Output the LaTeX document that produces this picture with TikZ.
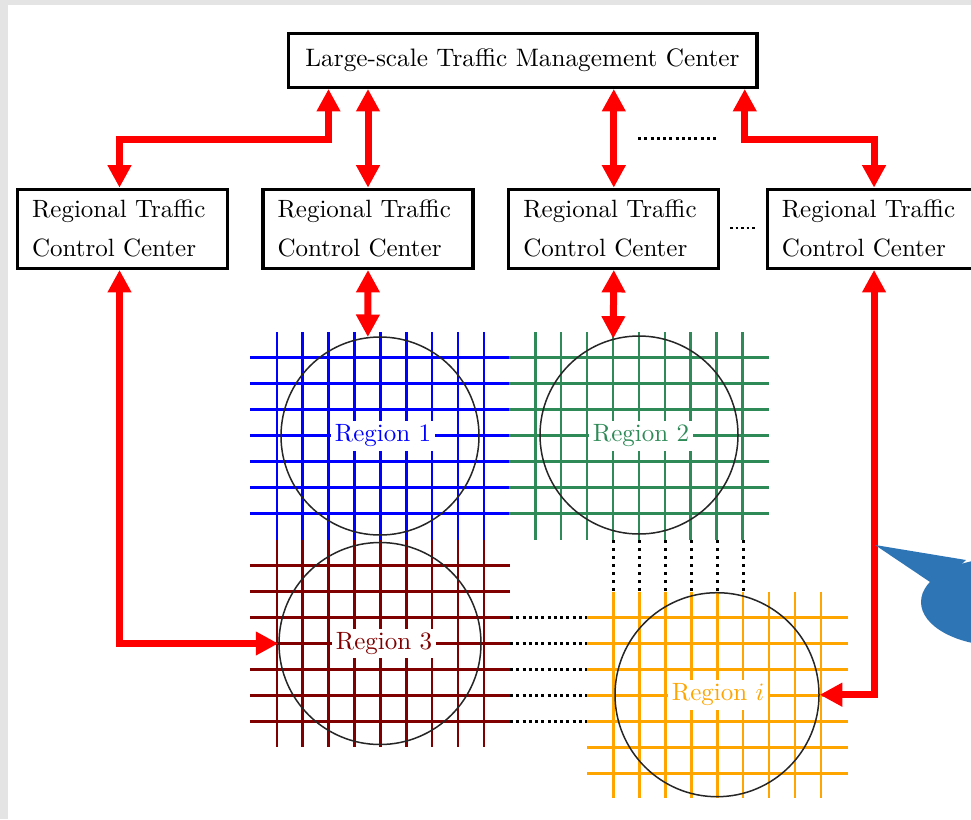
\documentclass[tikz,border=0pt]{standalone}
\usetikzlibrary{arrows.meta,calc}
\definecolor{bubblecol}{RGB}{46,117,182}
\definecolor{gridblue}{RGB}{0,0,255}
\definecolor{gridgreen}{RGB}{46,139,87}
\definecolor{gridred}{RGB}{128,0,0}
\definecolor{gridorange}{RGB}{255,165,0}
\definecolor{margingray}{RGB}{228,228,228}
\begin{document}
\begin{tikzpicture}[x=0.4pt,y=-0.4pt,
 tbox/.style={draw, line width=1.3pt, minimum width=187.5pt, minimum height=21.6pt, inner sep=0pt, font=\fontsize{10.1pt}{12pt}\selectfont},
 rbox/.style={draw, line width=1.3pt, minimum height=31.6pt, text width=72.4pt, inner xsep=5.8pt, inner ysep=0pt, align=left, font=\fontsize{10pt}{15.6pt}\selectfont},
 regcirc/.style={draw=black!85, line width=0.6pt, circle, inner sep=0pt},
 reglabel/.style={fill=white, inner sep=1.5pt, font=\fontsize{10pt}{12pt}\selectfont},
 biarrow/.style={draw=red, line width=2.8pt, {Triangle[length=9pt,width=9pt]}-{Triangle[length=9pt,width=9pt]}},
 roadh/.style={line width=1.15pt},
 roadv/.style={line width=1pt},
 dotline/.style={line width=1.2pt, dash pattern=on 1.2pt off 1.3pt},
]
\clip (0,0) rectangle (971,819);
\useasboundingbox (0,0) rectangle (971,819);
\fill[margingray] (0,0) rectangle (971,819);
\fill[white] (8,5) rectangle (971,819);

% grids
\foreach \k in {0,...,6} {
  \draw[gridblue, roadh] (250,{357.7+25.9*\k}) -- (509,{357.7+25.9*\k});
  \draw[gridgreen, roadh] (509,{357.7+25.9*\k}) -- (769,{357.7+25.9*\k});
  \draw[gridred, roadh] (250,{565.7+25.9*\k}) -- (510,{565.7+25.9*\k});
  \draw[gridorange, roadh] (587,{617.7+25.9*\k}) -- (848,{617.7+25.9*\k});
}
\foreach \k in {0,...,8} {
  \draw[gridblue, roadv] ({276.8+25.9*\k},332) -- ({276.8+25.9*\k},540);
  \draw[gridred, roadv] ({276.8+25.9*\k},540) -- ({276.8+25.9*\k},746.7);
  \draw[gridgreen, roadv] ({535.3+25.9*\k},332) -- ({535.3+25.9*\k},540);
  \draw[gridorange, roadv] ({613.7+25.9*\k},591.7) -- ({613.7+25.9*\k},798);
}
\foreach \k in {0,...,4}
  \draw[dotline] (510,{617.7+25.9*\k}) -- (587,{617.7+25.9*\k});
\foreach \k in {0,...,5}
  \draw[dotline, dash pattern=on 1.2pt off 2pt] ({613.7+25.9*\k},540) -- ({613.7+25.9*\k},591.7);

% region circles
\node[regcirc, minimum size=79.2pt] (r1c) at (380,436) {};
\node[regcirc, minimum size=79.2pt] (r2c) at (639,435) {};
\node[regcirc, minimum size=80.8pt] (r3c) at (380,643.5) {};
\node[regcirc, minimum size=81.6pt] (ric) at (717,694.7) {};
\node[reglabel, text=gridblue] (r1l) at (383,436) {Region 1};
\node[reglabel, text=gridgreen] (r2l) at (641,436) {Region 2};
\node[reglabel, text=gridred] (r3l) at (384,643.5) {Region 3};
\node[reglabel, text=gridorange] (ril) at (718,695) {Region $i$};

% boxes
\node[tbox] (tmc) at (522.5,60.3) {Large-scale Traffic Management Center};
\node[rbox] (b1) at (122.5,228.8) {Regional Traffic\\Control Center};
\node[rbox] (b2) at (368,228.8) {Regional Traffic\\Control Center};
\node[rbox] (b3) at (613.8,228.8) {Regional Traffic\\Control Center};
\node[rbox] (b4) at (872.3,228.8) {Regional Traffic\\Control Center};

% connectors
\draw[biarrow] ([xshift=16.8pt]tmc.south west) -- ++(0,51) -| ([xshift=-1.2pt]b1.north);
\draw[biarrow] (b2.north |- tmc.south) -- (b2.north);
\draw[biarrow] (b3.north |- tmc.south) -- (b3.north);
\draw[biarrow] ([xshift=-5.5pt]tmc.south east) -- ++(0,51) -| ([xshift=0.7pt]b4.north);
\coordinate (d1s) at (638,138.3);
\coordinate (d1e) at (718,138.3);
\draw[dotline] (d1s) -- (d1e);
\coordinate (d2s) at (730,228);
\coordinate (d2e) at (757,228);
\draw[dotline, line width=1pt, dash pattern=on 1pt off 1.2pt] (d2s) -- (d2e);

\draw[biarrow] (b2.south) -- (r1c.97);
\draw[biarrow] (b3.south) -- (r2c.105);
\draw[biarrow] ([xshift=-1.2pt]b1.south) |- (r3c.west);
\draw[biarrow] ([xshift=0.7pt]b4.south) |- (ric.east);

% speech bubble (cut off at the right edge)
\fill[bubblecol] (1002,602) ellipse [x radius=32.4pt, y radius=17.6pt];
\fill[bubblecol] (875,545) -- (966,560) -- (950,575) -- (933,584) -- cycle;
\end{tikzpicture}
\end{document}
